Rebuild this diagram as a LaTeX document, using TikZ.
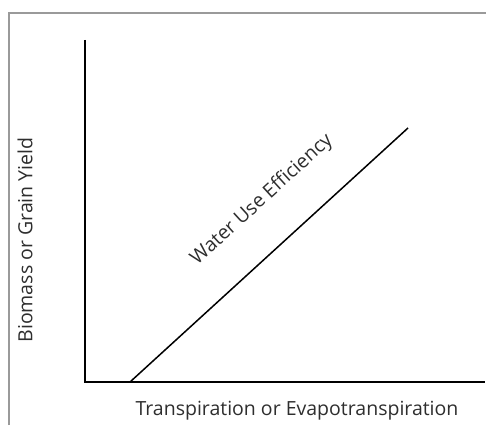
\documentclass[tikz,border=0pt]{standalone}
\usepackage{fontspec}
\setmainfont{Open Sans}
\usepackage{tikz}
\usetikzlibrary{calc}
\definecolor{framegray}{HTML}{9A9A9A}
\definecolor{labelgray}{HTML}{2E2E2E}

\begin{document}
\begin{tikzpicture}[x=1pt,y=1pt,
  axisline/.style={line width=2.2pt,black},
  wueline/.style={line width=1.5pt,black},
  axislabel/.style={font=\fontsize{19.5}{23}\selectfont,text=labelgray,inner sep=0pt}]
  \useasboundingbox (0,0) rectangle (486,425);
  \draw[framegray,line width=1.4pt] (9,0) -- (9,412) -- (486,412);
  \coordinate (top) at (85,385);
  \coordinate (origin) at (85,43);
  \coordinate (right) at (485,43);
  \coordinate (wuestart) at (130,43);
  \coordinate (wueend) at (408,297);
  \draw[axisline] (top) -- (origin) -- (right);
  \draw[wueline] (wuestart) -- (wueend);
  \node[axislabel] (xlabel) at (297,14) {Transpiration or Evapotranspiration};
  \node[axislabel,rotate=90] (ylabel) at (25,185) {Biomass or Grain Yield};
  \node[axislabel,rotate=42.4] (wuelabel) at (262,225) {Water Use Efficiency};
\end{tikzpicture}
\end{document}
